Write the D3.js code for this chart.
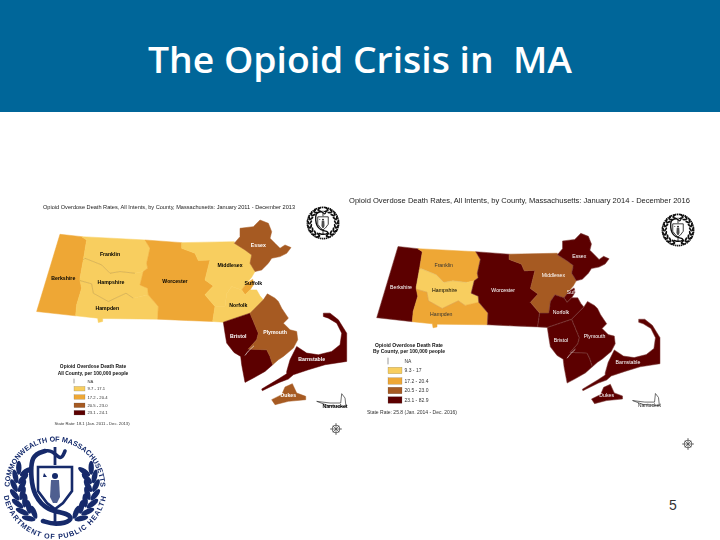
<!DOCTYPE html>
<html><head><meta charset="utf-8">
<script src="https://cdn.jsdelivr.net/npm/d3@7/dist/d3.min.js"></script>
<style>html,body{margin:0;padding:0;background:#fff}svg{display:block}</style></head>
<body><svg id="c" width="720" height="540"></svg>
<script>
const titleText = "The Opioid Crisis in  MA";
const pageNumber = "5";
const countyNames = ["Berkshire","Franklin","Hampshire","Hampden","Worcester","Middlesex","Essex","Suffolk","Norfolk","Bristol","Plymouth","Barnstable","Dukes","Nantucket"];
const classes2011 = [2,1,1,1,2,1,3,2,1,4,3,4,3,0];
const classes2014 = [4,2,1,2,4,3,4,4,4,4,4,4,4,0];
const classColors = ["#ffffff","#F8CE5E","#EEA735","#A65A22","#5C0606"];
const berkshire = [[90,133],[155,140],[170,150],[165,180],[160,210],[150,265],[155,295],[140,345],[137,378],[20,365]];
const franklin = [[155,140],[345,150],[360,175],[350,220],[353,235],[340,245],[315,250],[270,245],[240,250],[215,225],[165,205],[160,210],[165,180],[170,150]];
const hampshire = [[165,205],[215,225],[240,250],[270,245],[315,250],[340,245],[330,285],[353,295],[355,315],[310,325],[288,310],[235,335],[190,310],[185,282],[150,272],[150,265],[160,210]];
const hampden = [[150,272],[185,282],[190,310],[235,335],[288,310],[310,325],[355,315],[385,350],[383,388],[218,386],[218,395],[205,398],[203,385],[137,378],[140,345],[155,295]];
const worcester = [[345,150],[455,158],[455,175],[495,190],[505,212],[540,210],[525,270],[550,288],[525,315],[555,350],[548,395],[470,392],[383,388],[385,350],[355,315],[353,295],[330,285],[340,245],[353,235],[350,220],[360,175]];
const middlesex = [[455,158],[613,155],[613,160],[645,180],[665,195],[660,220],[675,245],[665,262],[650,280],[635,300],[605,290],[590,312],[585,350],[555,350],[525,315],[550,288],[525,270],[540,210],[505,212],[495,190],[455,175]];
const essex = [[613,160],[630,140],[630,115],[670,110],[690,90],[715,100],[725,125],[720,145],[735,160],[750,175],[765,165],[783,173],[770,190],[750,200],[725,205],[715,220],[695,240],[675,245],[660,220],[665,195],[645,180]];
const suffolk = [[635,300],[650,280],[668,268],[672,282],[660,300],[645,315]];
const norfolk = [[605,290],[635,300],[645,315],[660,300],[680,300],[690,318],[700,330],[660,370],[580,397],[548,395],[555,350],[585,350],[590,312]];
const bristol = [[580,397],[660,370],[685,430],[680,450],[655,478],[710,480],[720,500],[728,525],[705,545],[670,565],[645,578],[635,525],[632,500],[612,488],[590,460],[585,430]];
const plymouth = [[700,330],[712,312],[735,325],[745,335],[755,355],[775,385],[760,400],[780,420],[800,425],[803,450],[790,475],[760,500],[745,510],[728,525],[720,500],[710,480],[655,478],[680,450],[685,430],[660,370]];
const barnstable = [[800,470],[830,490],[865,495],[905,485],[930,465],[935,430],[920,400],[895,385],[880,380],[880,370],[900,370],[925,390],[950,430],[950,515],[885,525],[835,540],[790,555],[775,568],[748,578],[697,603],[695,598],[745,568],[770,552],[770,545],[780,510]];
const dukes = [[725,630],[755,615],[765,592],[787,582],[800,610],[827,620],[827,630],[775,635],[735,645]];
const nantucket = [[860,635],[895,648],[930,650],[948,652],[945,625],[935,612],[932,640],[900,640]];
const shapes = [berkshire,franklin,hampshire,hampden,worcester,middlesex,essex,suffolk,norfolk,bristol,plymouth,barnstable,dukes,nantucket];
const inletWest = [[645,497],[655,484],[672,468]];
const harbour = [[672,282],[690,290],[700,305],[692,318]];
const labelU = [100,240,243,232,435,600,685,670,625,625,735,845,775,915];
const labelV = [265,195,278,355,275,228,167,282,347,440,427,510,617,650];
const label2011Colors = ["#000","#000","#000","#000","#000","#000","#fff","#000","#000","#fff","#fff","#fff","#fff","#000"];
const label2014Colors = ["#fff","#333","#000","#333","#fff","#fff","#fff","#fff","#fff","#fff","#fff","#fff","#fff","#333"];
const legend2011 = ["NA","9.7 - 17.1","17.2 - 20.4","20.5 - 23.0","23.1 - 24.1"];
const legend2014 = ["NA","9.3 - 17","17.2 - 20.4","20.5 - 23.0","23.1 - 82.9"];

const svg = d3.select("#c");
const defs = svg.append("defs");
defs.append("filter").attr("id","soft").attr("x","-5%").attr("y","-5%").attr("width","110%").attr("height","110%")
  .append("feGaussianBlur").attr("stdDeviation",0.5);
defs.append("filter").attr("id","softer").attr("x","-5%").attr("y","-5%").attr("width","110%").attr("height","110%")
  .append("feGaussianBlur").attr("stdDeviation",0.35);
defs.append("filter").attr("id","logoSoft").attr("x","-5%").attr("y","-5%").attr("width","110%").attr("height","110%")
  .append("feGaussianBlur").attr("stdDeviation",0.3);

svg.append("rect").attr("width",720).attr("height",112).attr("fill","#006699");
svg.append("text").attr("x",148).attr("y",73).style("white-space","pre")
  .attr("font-family","'Open Sans',sans-serif").attr("font-weight",600).attr("font-size",36).attr("fill","#fff")
  .attr("textLength",424).attr("lengthAdjust","spacingAndGlyphs").text(titleText);
svg.append("text").attr("x",673).attr("y",510).attr("text-anchor","middle").attr("font-family","'Liberation Sans',sans-serif")
  .attr("font-size",14).attr("fill","#333").text(pageNumber);

function seal(g,cx,cy,r,color,withText){
  const s=g.append("g").attr("transform",`translate(${cx},${cy})`);
  const k=r/55;
  if(withText){
    const top=d3.path(); top.arc(0,0,45.5,Math.PI*0.9,Math.PI*2.1);
    const bot=d3.path(); bot.arc(0,0,52,Math.PI*0.95,Math.PI*0.05,true);
    defs.append("path").attr("id","arcTop").attr("d",top.toString());
    defs.append("path").attr("id","arcBot").attr("d",bot.toString());
    s.append("text").attr("font-family","'Liberation Sans',sans-serif").attr("font-weight","bold").attr("font-size",7.2).attr("fill",color)
      .append("textPath").attr("href","#arcTop").attr("startOffset","50%").attr("text-anchor","middle").text("COMMONWEALTH OF MASSACHUSETTS");
    s.append("text").attr("font-family","'Liberation Sans',sans-serif").attr("font-weight","bold").attr("font-size",7.2).attr("letter-spacing",0.9).attr("fill",color)
      .append("textPath").attr("href","#arcBot").attr("startOffset","50%").attr("text-anchor","middle").text("DEPARTMENT OF PUBLIC HEALTH");
  } else {
    s.append("circle").attr("r",r*.92).attr("fill","none").attr("stroke",color).attr("stroke-width",1.6).attr("stroke-dasharray","1.4 .6");
  }
  // laurel wreath: paired leaves that splay out from a stem
  const span = withText ? d3.range(-28,58,13) : d3.range(-75,76,18);
  [-1,1].forEach(side=>{
    span.forEach(deg=>{
      const a=deg*Math.PI/180, R=withText?37*k:44*k;
      [-1,1].forEach(t=>{
        const off=t*4*k;
        const px=side*Math.cos(a)*(R+off), py=Math.sin(a)*(R+off);
        const rot=deg-90+t*28;
        s.append("ellipse").attr("rx",(withText?7:8)*k).attr("ry",(withText?2.7:3)*k)
         .attr("transform",`translate(${px},${py}) rotate(${side>0?rot:-rot})`).attr("fill",color);
      });
    });
  });
  // shield
  s.append("path").attr("d",d3.line().curve(d3.curveLinear)([[-17*k,-20*k],[17*k,-20*k],[17*k,4*k],[8*k,16*k],[0,22*k],[-8*k,16*k],[-17*k,4*k]])+"Z").attr("fill","#fff").attr("stroke",color).attr("stroke-width",2.6*k);
  s.append("circle").attr("cy",-11*k).attr("r",3*k).attr("fill",color);
  s.append("path").attr("d",d3.line()([[-4*k,-7*k],[4*k,-7*k],[5*k,10*k],[2*k,16*k],[-2*k,16*k],[-5*k,10*k]])+"Z").attr("fill",color).attr("opacity",.75);
  s.append("path").attr("d",d3.line()([[-11*k,-14*k],[-8*k,-10*k],[-12*k,-10*k]])+"Z").attr("fill",color);
  // serpent and rod
  s.append("path").attr("fill","none").attr("stroke",color).attr("stroke-width",4.6*k).attr("stroke-linecap","round")
   .attr("d",d3.line().curve(d3.curveBasis)([[-10*k,-36*k],[-24*k,-32*k],[-24*k,-8*k],[-21*k,8*k],[-8*k,24*k],[14*k,26*k],[18*k,34*k],[0,38*k],[-12*k,34*k]]));
  s.append("path").attr("fill","none").attr("stroke",color).attr("stroke-width",3.6*k).attr("stroke-linecap","round")
   .attr("d",d3.line().curve(d3.curveBasis)([[-10*k,-36*k],[-3*k,-37*k],[6*k,-26*k],[10*k,-36*k]]));
  s.append("rect").attr("x",-1.4*k).attr("y",-40*k).attr("width",2.8*k).attr("height",18*k).attr("fill",color);
  s.append("rect").attr("x",-1.4*k).attr("y",24*k).attr("width",2.8*k).attr("height",14*k).attr("fill",color);
}
function rose(g,cx,cy,r){
  const s=g.append("g").attr("transform",`translate(${cx},${cy})`).attr("fill","#444").attr("stroke","#444");
  s.append("circle").attr("r",r*.65).attr("fill","none").attr("stroke-width",.8);
  d3.range(8).forEach(i=>{const a=i*Math.PI/4;s.append("line").attr("x2",Math.cos(a)*r*(i%2?.75:1)).attr("y2",Math.sin(a)*r*(i%2?.75:1)).attr("stroke-width",.7);});
}

function panel(cfg){
  const g=svg.append("g").attr("filter","url(#soft)");
  const x=d3.scaleLinear().domain([22,950]).range(cfg.xr);
  const y=d3.scaleLinear().domain([90,655]).range(cfg.yr);
  const line=d3.line().x(d=>x(d[0])).y(d=>y(d[1]));
  g.selectAll("path.county").data(shapes).join("path").attr("class","county")
    .attr("d",d=>line(d)+"Z")
    .attr("fill",(d,i)=>classColors[cfg.classes[i]])
    .attr("stroke",(d,i)=>i===13?"#333":(cfg.classes[i]===4?cfg.edgeDark:classColors[cfg.classes[i]])).attr("stroke-width",(d,i)=>i===13?.7:.5);
  g.selectAll("path.inner").data([franklin.slice(6,12),hampshire.slice(9,15)]).join("path").attr("class","inner")
    .attr("d",line).attr("fill","none").attr("stroke",cfg.edge).attr("stroke-width",.3).attr("opacity",.75);
  g.selectAll("path.water").data([inletWest,harbour]).join("path").attr("class","water")
    .attr("d",line).attr("fill","none").attr("stroke","#fff").attr("stroke-width",.6);
  g.selectAll("text.lab").data(countyNames).join("text").attr("class","lab")
    .attr("x",(d,i)=>x(labelU[i])).attr("y",(d,i)=>y(labelV[i])+1.5).attr("text-anchor","middle")
    .attr("font-family","'Liberation Sans',sans-serif").attr("font-size",cfg.labelSize).attr("font-weight",cfg.labelWeight)
    .attr("fill",(d,i)=>cfg.labelColors[i]).text(d=>d);
  const t=svg.append("g").attr("filter","url(#softer)").attr("font-family","'Liberation Sans',sans-serif");
  t.append("text").attr("x",cfg.title[0]).attr("y",cfg.title[1]).attr("font-size",cfg.title[3]).attr("fill","#222")
    .attr("textLength",cfg.title[2]).attr("lengthAdjust","spacingAndGlyphs").text(cfg.titleText);
  const lg=cfg.legend;
  t.selectAll("text.lt").data(lg.heads).join("text").attr("class","lt").attr("x",lg.cx).attr("y",(d,i)=>lg.headY[i])
    .attr("text-anchor","middle").attr("font-size",lg.headSize).attr("font-weight","bold").attr("fill","#111").text(d=>d);
  cfg.legendLabels.forEach((d,i)=>{
    const yy=lg.rowY[i];
    if(i===0){ t.append("line").attr("x1",lg.x).attr("x2",lg.x).attr("y1",yy-lg.h/2).attr("y2",yy+lg.h/2).attr("stroke","#333").attr("stroke-width",.5);}
    else t.append("rect").attr("x",lg.x).attr("y",yy-lg.h/2).attr("width",lg.w).attr("height",lg.h).attr("fill",classColors[i]).attr("stroke","#555").attr("stroke-width",.2);
    t.append("text").attr("x",lg.x+lg.w+2.5).attr("y",yy+1.7).attr("font-size",lg.labelSize).attr("fill","#333").text(d);
  });
  t.append("text").attr("x",lg.rateX).attr("y",lg.rateY).attr("text-anchor","middle").attr("font-size",lg.labelSize).attr("fill","#333").text(cfg.rate);
  seal(t,cfg.seal[0],cfg.seal[1],cfg.seal[2],"#111",false);
  rose(t,cfg.rose[0],cfg.rose[1],cfg.rose[2]);
}
panel({xr:[37.3,346.7],yr:[220,408],classes:classes2011,edge:"#6e5228",edgeDark:"#5C0606",labelSize:5.2,labelWeight:"bold",labelColors:label2011Colors,
  title:[43,209,252,6],titleText:"Opioid Overdose Death Rates, All Intents, by County, Massachusetts: January 2011 - December 2013",
  legend:{cx:93,heads:["Opioid Overdose Death Rate","All County, per 100,000 people"],headY:[367.5,374.5],headSize:4.9,x:74,w:11,h:4.6,
    rowY:[381,388.7,397,405.3,412.7],labelSize:4.2,rateX:92,rateY:425},
  legendLabels:legend2011,rate:"State Rate: 18.1 (Jan. 2011 - Dec. 2013)",seal:[323,223,17],rose:[336,429,6]});
panel({xr:[377.3,660],yr:[233.3,406.7],classes:classes2014,edge:"#b89878",edgeDark:"#7a3530",labelSize:5.2,labelWeight:"normal",labelColors:label2014Colors,
  title:[349,203,341,7.6],titleText:"Opioid Overdose Death Rates, All Intents, by County, Massachusetts: January 2014 - December 2016",
  legend:{cx:409,heads:["Opioid Overdose Death Rate","By County, per 100,000 people"],headY:[346.5,353],headSize:5,x:388,w:14,h:6.6,
    rowY:[361,370.5,381,390.5,400],labelSize:5,rateX:412,rateY:414},
  legendLabels:legend2014,rate:"State Rate: 25.8 (Jan. 2014 - Dec. 2016)",seal:[678,230,17],rose:[688,444,6]});
seal(svg.append("g").attr("filter","url(#logoSoft)"),55,487,55,"#14296B",true);
</script></body></html>
